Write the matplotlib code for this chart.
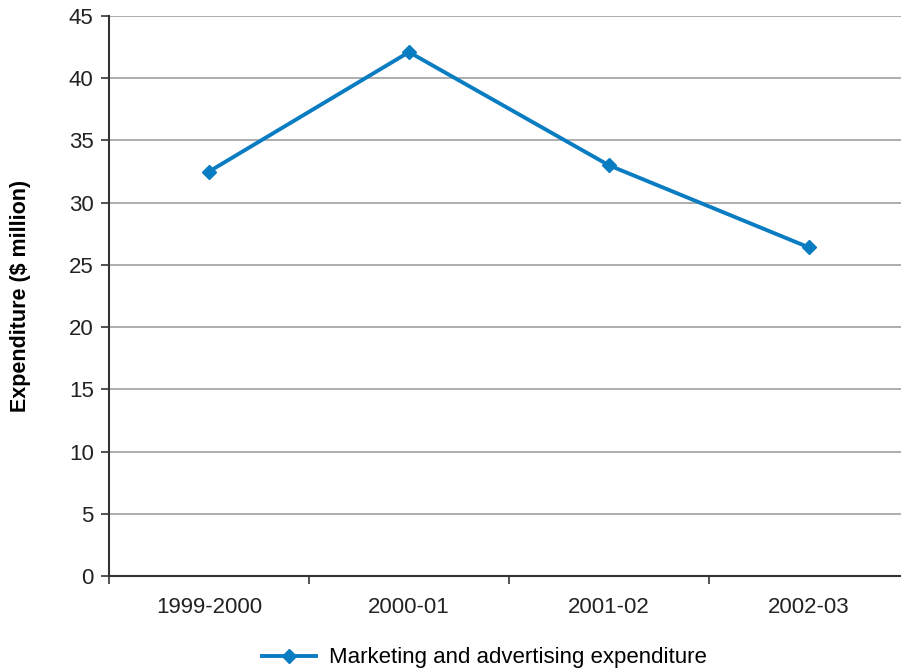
import matplotlib
matplotlib.use("Agg")
import matplotlib.pyplot as plt

years = ["1999-2000", "2000-01", "2001-02", "2002-03"]
spend = [32.5, 42.1, 33.0, 26.4]
series_name = "Marketing and advertising expenditure"

plt.rcParams['font.family'] = ['Liberation Sans', 'DejaVu Sans']

fig = plt.figure(figsize=(9.01, 6.70), dpi=100)
ax = fig.add_axes([109 / 901, 94 / 670, 800 / 901, 560 / 670])

x = range(len(years))
ax.plot(x, spend, color="#0a7cc1", lw=2.8, marker="D", ms=7.5, label=series_name)

ax.set_xlim(-0.5, len(years) - 0.5)
ax.set_ylim(0, 45)
ax.set_yticks(range(0, 46, 5))
ax.set_xticks(x)
ax.set_xticklabels(years)
ax.set_xticks([i - 0.5 for i in range(len(years) + 1)], minor=True)
ax.tick_params(axis="x", which="major", length=0, pad=15, labelsize=16, colors="#222222")
ax.tick_params(axis="x", which="minor", length=6, width=1.2, direction="out", color="#333333")
ax.tick_params(axis="y", length=6, width=1.2, labelsize=16, pad=5, colors="#333333", labelcolor="#222222")

ax.grid(axis="y", color="#a0a0a0", lw=1.2)
ax.set_axisbelow(True)
for s in ["top", "right"]:
    ax.spines[s].set_visible(False)
for s in ["left", "bottom"]:
    ax.spines[s].set_color("#333333")
    ax.spines[s].set_linewidth(1.5)

ax.set_ylabel("Expenditure ($ million)", fontsize=15.5, fontweight="bold", labelpad=27)

fig.legend(loc="center", bbox_to_anchor=(0.538, 0.018), frameon=False, fontsize=16,
           handlelength=2.4, handletextpad=0.6)

fig.savefig("out.png", dpi=100)
